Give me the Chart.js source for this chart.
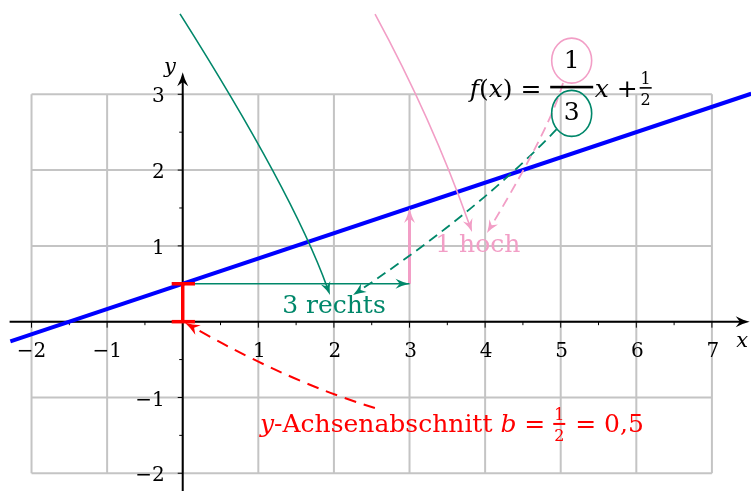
<!DOCTYPE html>
<html>
<head>
<meta charset="utf-8">
<script src="https://cdn.jsdelivr.net/npm/chart.js@4.4.0/dist/chart.umd.min.js"></script>
<style>
  html, body { margin: 0; padding: 0; background: #fff; }
  canvas { display: block; }
</style>
</head>
<body>
<canvas id="chart" width="751" height="491"></canvas>
<script>
// visible window of the coordinate system
const xRange = [-2.417, 7.517];
const yRange = [-2.234, 4.244];

// grid and ticks
const gridXs = [-2, -1, 0, 1, 2, 3, 4, 5, 6, 7];
const gridYs = [-2, -1, 0, 1, 2, 3];
const xTickLabels = [-2, -1, 1, 2, 3, 4, 5, 6, 7];
const yTickLabels = [-2, -1, 1, 2, 3];
const halfTicksX = [-1.5, -0.5, 0.5, 1.5, 2.5, 3.5, 4.5, 5.5, 6.5];
const halfTicksY = [-1.5, -0.5, 0.5, 1.5, 2.5];

// f(x) = 1/3 x + 1/2, end points at the window edges
const lineX = [-2.28, 7.52];
const lineY = [-0.26, 3.007];

// slope triangle and intercept
const runX = [0, 3], runY = [0.5, 0.5];        // 3 rechts
const riseX = [3, 3], riseY = [0.5, 1.4];      // 1 hoch (head added on top)
const barX = [0, 0], barY = [0, 0.5];          // b
const capX = [-0.146, 0.162];

// curved callouts: start, control, end
const greenCurve = [[-0.036, 4.06], [1.451, 1.716], [1.948, 0.352]];
const pinkCurve = [[2.544, 4.059], [3.292, 2.685], [3.827, 1.183]];
const greenDash = [[4.947, 2.540], [3.933, 1.480], [2.253, 0.352]];
const pinkDash = [[5.030, 3.149], [4.878, 2.589], [4.025, 1.170]];
const redDash = [[2.542, -1.138], [1.417, -0.800], [0.030, -0.013]];

const GREEN = '#00876a';
const PINK = '#f29ec6';
const RED = '#ff0000';
const BLUE = '#0000ff';
const FONT = '"DejaVu Serif", serif';

function pts(xs, ys) { return xs.map((x, i) => ({ x: x, y: ys[i] })); }

function arrowHead(ctx, x, y, ang, len, w, color) {
    ctx.save();
    ctx.translate(x, y);
    ctx.rotate(ang);
    ctx.fillStyle = color;
    ctx.beginPath();
    ctx.moveTo(0, 0);
    ctx.quadraticCurveTo(-len * 0.5, -w * 0.15, -len, -w / 2);
    ctx.lineTo(-len * 0.7, 0);
    ctx.lineTo(-len, w / 2);
    ctx.quadraticCurveTo(-len * 0.5, w * 0.15, 0, 0);
    ctx.fill();
    ctx.restore();
}

const drawPlugin = {
    id: 'drawing',
    beforeDatasetsDraw(chart) {
        const ctx = chart.ctx;
        const X = v => chart.scales.x.getPixelForValue(v);
        const Y = v => chart.scales.y.getPixelForValue(v);

        // grid
        ctx.save();
        ctx.strokeStyle = '#c4c4c4';
        ctx.lineWidth = 2;
        gridXs.forEach(g => {
            ctx.beginPath(); ctx.moveTo(X(g), Y(-2)); ctx.lineTo(X(g), Y(3)); ctx.stroke();
        });
        gridYs.forEach(g => {
            ctx.beginPath(); ctx.moveTo(X(-2), Y(g)); ctx.lineTo(X(7), Y(g)); ctx.stroke();
        });

        // axes
        ctx.strokeStyle = '#000';
        ctx.lineWidth = 2;
        ctx.beginPath(); ctx.moveTo(X(-2.29), Y(0)); ctx.lineTo(X(7.44), Y(0)); ctx.stroke();
        ctx.beginPath(); ctx.moveTo(X(0), Y(yRange[0])); ctx.lineTo(X(0), Y(3.22)); ctx.stroke();
        arrowHead(ctx, X(7.50), Y(0), 0, 14, 11, '#000');
        arrowHead(ctx, X(0), Y(3.29), -Math.PI / 2, 14, 11, '#000');

        ctx.lineWidth = 1;
        gridXs.filter(g => g !== 0).forEach(g => {
            ctx.beginPath(); ctx.moveTo(X(g), Y(0)); ctx.lineTo(X(g), Y(0) + 6); ctx.stroke();
        });
        halfTicksX.forEach(g => {
            ctx.beginPath(); ctx.moveTo(X(g), Y(0)); ctx.lineTo(X(g), Y(0) + 3.5); ctx.stroke();
        });
        gridYs.filter(g => g !== 0).forEach(g => {
            ctx.beginPath(); ctx.moveTo(X(0), Y(g)); ctx.lineTo(X(0) - 5, Y(g)); ctx.stroke();
        });
        halfTicksY.forEach(g => {
            ctx.beginPath(); ctx.moveTo(X(0), Y(g)); ctx.lineTo(X(0) - 3.5, Y(g)); ctx.stroke();
        });

        // tick labels
        ctx.fillStyle = '#000';
        ctx.font = '20px ' + FONT;
        ctx.textAlign = 'center';
        ctx.textBaseline = 'middle';
        xTickLabels.forEach(v => {
            ctx.fillText(String(v).replace('-', '\u2212'), X(v) + (v < 0 ? 0 : 1), Y(0) + 30);
        });
        ctx.textAlign = 'right';
        yTickLabels.forEach(v => {
            ctx.fillText(String(v).replace('-', '\u2212'), X(0) - 18, Y(v) + 3);
        });
        ctx.font = 'italic 21px ' + FONT;
        ctx.textAlign = 'center';
        ctx.fillText('x', X(7.4), Y(-0.26));
        ctx.fillText('y', X(-0.17), Y(3.35));
        ctx.restore();
    },
    afterDatasetsDraw(chart) {
        const ctx = chart.ctx;
        const X = v => chart.scales.x.getPixelForValue(v);
        const Y = v => chart.scales.y.getPixelForValue(v);

        function curve(c, color, width, dash, headLen, headW) {
            const p0 = [X(c[0][0]), Y(c[0][1])];
            const p1 = [X(c[1][0]), Y(c[1][1])];
            const p2 = [X(c[2][0]), Y(c[2][1])];
            const ang = Math.atan2(p2[1] - p1[1], p2[0] - p1[0]);
            const e = [p2[0] - Math.cos(ang) * headLen * 0.6, p2[1] - Math.sin(ang) * headLen * 0.6];
            ctx.save();
            ctx.strokeStyle = color;
            ctx.lineWidth = width;
            ctx.setLineDash(dash);
            ctx.beginPath();
            ctx.moveTo(p0[0], p0[1]);
            ctx.quadraticCurveTo(p1[0], p1[1], e[0], e[1]);
            ctx.stroke();
            ctx.restore();
            arrowHead(ctx, p2[0], p2[1], ang, headLen, headW, color);
        }

        curve(greenCurve, GREEN, 1.6, [], 13, 10);
        curve(pinkCurve, PINK, 1.6, [], 13, 10);
        curve(greenDash, GREEN, 1.8, [10, 6], 13, 10);
        curve(pinkDash, PINK, 1.8, [10, 6], 13, 10);
        curve(redDash, RED, 2, [12, 8], 15, 11);

        // arrow heads for the slope triangle
        arrowHead(ctx, X(3), Y(0.5), 0, 14, 10, GREEN);
        arrowHead(ctx, X(3), Y(1.5), -Math.PI / 2, 15, 11, PINK);

        // labels
        ctx.save();
        ctx.textBaseline = 'middle';
        ctx.font = '25px ' + FONT;
        ctx.fillStyle = GREEN;
        ctx.textAlign = 'center';
        ctx.fillText('3 rechts', X(2.0), Y(0.20));
        ctx.fillStyle = PINK;
        ctx.textAlign = 'left';
        ctx.fillText('1 hoch', X(3.34), Y(1.0));

        // red label: y-Achsenabschnitt b = 1/2 = 0,5
        ctx.fillStyle = RED;
        ctx.textBaseline = 'alphabetic';
        let cx = X(1.022);
        const base = Y(-1.336) + 9;
        const seg = (t, f) => { ctx.font = f; ctx.fillText(t, cx, base); cx += ctx.measureText(t).width; };
        seg('y', 'italic 25px ' + FONT);
        seg('-Achsenabschnitt ', '25px ' + FONT);
        seg('b', 'italic 25px ' + FONT);
        seg(' = ', '25px ' + FONT);
        ctx.font = '16px ' + FONT;
        ctx.textAlign = 'center';
        ctx.fillText('1', cx + 6, base - 12);
        ctx.fillText('2', cx + 6, base + 9);
        ctx.fillRect(cx, base - 9, 12, 2);
        ctx.textAlign = 'left';
        cx += 14;
        seg(' = 0,5', '25px ' + FONT);

        // formula f(x) = 1/3 x + 1/2
        const ax = X(5.145), ay = Y(3.095);
        ctx.fillStyle = '#000';
        let fx = ax - 102;
        const fseg = (t, f, x0) => { ctx.font = f; ctx.fillText(t, x0, ay + 10); return x0 + ctx.measureText(t).width; };
        fx = fseg('f', 'italic 25px ' + FONT, fx);
        fx = fseg('(', '25px ' + FONT, fx);
        fx = fseg('x', 'italic 25px ' + FONT, fx);
        fx = fseg(')', '25px ' + FONT, fx);
        fseg(' =', '25px ' + FONT, fx);
        ctx.fillRect(ax - 21.5, ay - 1.3, 43, 2.6);
        ctx.font = '25px ' + FONT;
        ctx.textAlign = 'center';
        ctx.textBaseline = 'middle';
        ctx.fillText('1', ax, ay - 26);
        ctx.fillText('3', ax, ay + 26);
        ctx.textAlign = 'left';
        ctx.textBaseline = 'alphabetic';
        let gx = fseg('x', 'italic 25px ' + FONT, ax + 23);
        fseg(' + ', '25px ' + FONT, gx);
        ctx.font = '16px ' + FONT;
        ctx.textAlign = 'center';
        ctx.fillText('1', ax + 74, ay - 3);
        ctx.fillText('2', ax + 74, ay + 18);
        ctx.fillRect(ax + 68, ay, 12, 1.6);

        // circles around numerator and denominator
        ctx.lineWidth = 1.6;
        ctx.strokeStyle = PINK;
        ctx.beginPath(); ctx.ellipse(ax, ay - 26.5, 20, 22.5, 0, 0, Math.PI * 2); ctx.stroke();
        ctx.strokeStyle = GREEN;
        ctx.beginPath(); ctx.ellipse(ax, ay + 26.3, 20, 23, 0, 0, Math.PI * 2); ctx.stroke();
        ctx.restore();
    }
};

new Chart(document.getElementById('chart'), {
    type: 'scatter',
    data: {
        datasets: [
            { data: pts(barX, barY), borderColor: RED, borderWidth: 3.5, showLine: true, pointRadius: 0 },
            { data: pts(capX, [0, 0]), borderColor: RED, borderWidth: 3.5, showLine: true, pointRadius: 0 },
            { data: pts(capX, [0.5, 0.5]), borderColor: RED, borderWidth: 3.5, showLine: true, pointRadius: 0 },
            { data: pts(runX, runY), borderColor: GREEN, borderWidth: 1.6, showLine: true, pointRadius: 0 },
            { data: pts(riseX, riseY), borderColor: PINK, borderWidth: 3, showLine: true, pointRadius: 0 },
            { data: pts(lineX, lineY), borderColor: BLUE, borderWidth: 4, showLine: true, pointRadius: 0 }
        ]
    },
    options: {
        responsive: false,
        animation: false,
        layout: { padding: 0 },
        plugins: { legend: { display: false }, tooltip: { enabled: false } },
        scales: {
            x: { type: 'linear', min: xRange[0], max: xRange[1], display: false },
            y: { type: 'linear', min: yRange[0], max: yRange[1], display: false }
        }
    },
    plugins: [drawPlugin]
});
</script>
</body>
</html>
